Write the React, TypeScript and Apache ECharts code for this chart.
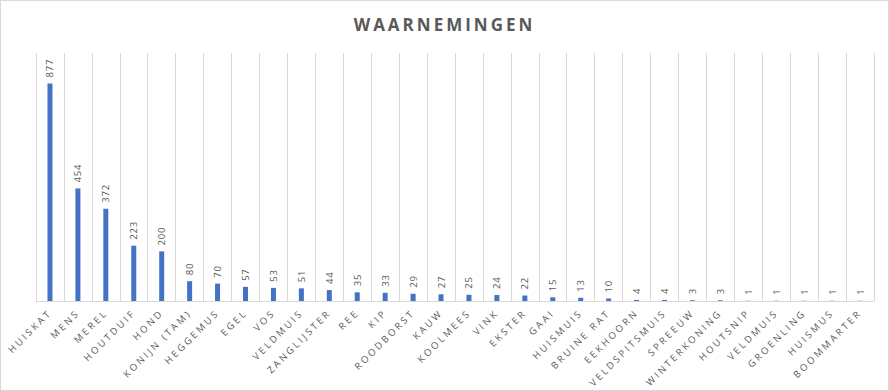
import React, { useEffect, useRef } from "react";
import * as echarts from "echarts";

const categories = [
  "HUISKAT", "MENS", "MEREL", "HOUTDUIF", "HOND", "KONIJN (TAM)", "HEGGEMUS", "EGEL", "VOS", "VELDMUIS",
  "ZANGLIJSTER", "REE", "KIP", "ROODBORST", "KAUW", "KOOLMEES", "VINK", "EKSTER", "GAAI", "HUISMUIS",
  "BRUINE RAT", "EEKHOORN", "VELDSPITSMUIS", "SPREEUW", "WINTERKONING", "HOUTSNIP", "VELDMUIS", "GROENLING", "HUISMUS", "BOOMMARTER",
];
const values = [
  877, 454, 372, 223, 200, 80, 70, 57, 53, 51,
  44, 35, 33, 29, 27, 25, 24, 22, 15, 13,
  10, 4, 4, 3, 3, 1, 1, 1, 1, 1,
];
const titleText = "WAARNEMINGEN";

export default function App() {
  const ref = useRef<HTMLDivElement>(null);
  useEffect(() => {
    document.body.style.margin = "0";
    const el = ref.current!;
    const chart = echarts.init(el, undefined, { renderer: "svg" });
    const grey = "#595959";
    chart.setOption({
      animation: false,
      title: {
        text: titleText,
        left: "center",
        top: 10,
        textStyle: { fontFamily: "Open Sans", fontSize: 17, fontWeight: "bold", color: grey },
      },
      grid: { left: 35, right: 14, top: 52, bottom: 89 },
      xAxis: {
        type: "category",
        data: categories,
        z: 5,
        axisLine: { lineStyle: { color: "#d9d9d9", width: 1 } },
        axisTick: { show: false },
        splitLine: { show: true, interval: 0, lineStyle: { color: "#d9d9d9", width: 1 } },
        axisLabel: {
          interval: 0,
          rotate: 45,
          margin: 10,
          fontFamily: "Open Sans",
          fontSize: 9.5,
          color: grey,
        },
      },
      yAxis: {
        type: "value",
        min: 0,
        max: 1000,
        show: false,
        splitLine: { show: false },
      },
      series: [
        {
          type: "bar",
          data: values,
          barWidth: 5,
          itemStyle: { color: "#4472c4" },
          label: {
            show: true,
            position: "top",
            rotate: 90,
            align: "left",
            verticalAlign: "middle",
            distance: 6,
            fontFamily: "Open Sans",
            fontSize: 9.5,
            color: grey,
          },
        },
      ],
    });
    const applySpacing = () => {
      el.querySelectorAll("text").forEach((t) => {
        const s = t.textContent || "";
        if (s === titleText) {
          (t as SVGTextElement).style.letterSpacing = "3px";
        } else if (categories.includes(s)) {
          (t as SVGTextElement).style.letterSpacing = "2.6px";
        } else {
          (t as SVGTextElement).style.letterSpacing = "0.8px";
        }
      });
    };
    applySpacing();
    const tm = setTimeout(applySpacing, 50);
    return () => {
      clearTimeout(tm);
      chart.dispose();
    };
  }, []);
  return (
    <div
      ref={ref}
      style={{ width: 889, height: 391, border: "1px solid #d9d9d9", boxSizing: "border-box", background: "#fff" }}
    />
  );
}
